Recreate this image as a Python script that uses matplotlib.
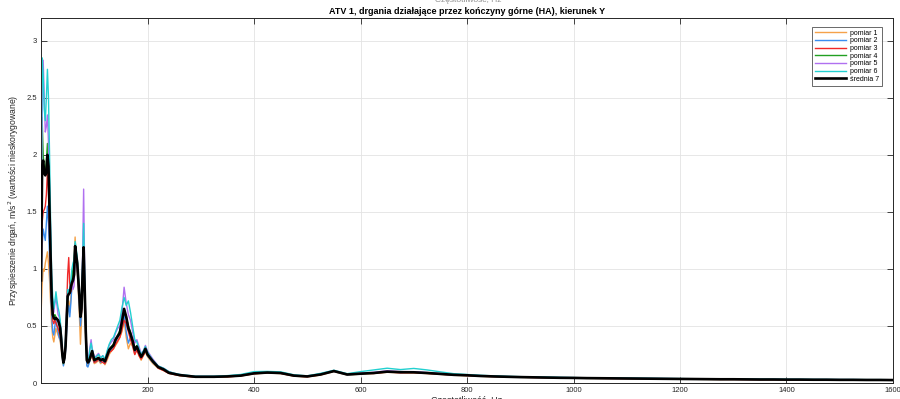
import numpy as np
import matplotlib
matplotlib.use("Agg")
import matplotlib.pyplot as plt

plt.rcParams['font.family'] = ['Liberation Sans', 'DejaVu Sans']

# frequency grid, Hz
freq = np.concatenate([np.arange(0, 101, 2), np.arange(104, 201, 4),
                       np.arange(210, 301, 10), np.arange(325, 1601, 25)])

# 0-300 Hz values (86 points), m/s^2
p1_low = [0.60, 0.85, 1.00, 0.98, 1.05, 1.10, 1.15, 1.05, 0.90, 0.70, 0.50, 0.40, 0.36, 0.42, 0.48, 0.45, 0.42, 0.40, 0.36, 0.30,
          0.22, 0.16, 0.20, 0.30, 0.50, 0.65, 0.72, 0.62, 0.75, 0.85, 0.90, 1.10, 1.28, 1.10, 1.00, 0.80, 0.60, 0.34, 0.55, 0.90,
          1.12, 0.70, 0.35, 0.16, 0.15, 0.18, 0.20, 0.22, 0.24, 0.20, 0.17,
          0.18, 0.20, 0.17, 0.19, 0.16, 0.20, 0.25, 0.28, 0.30, 0.33, 0.36, 0.40, 0.45, 0.55, 0.40, 0.30, 0.35, 0.32, 0.25, 0.30,
          0.24, 0.20, 0.24, 0.27, 0.23,
          0.17, 0.13, 0.11, 0.085, 0.075, 0.065, 0.06, 0.055, 0.05, 0.05]
p2_low = [0.72, 1.20, 1.35, 1.30, 1.25, 1.40, 1.55, 1.40, 1.10, 0.80, 0.60, 0.45, 0.42, 0.50, 0.55, 0.50, 0.45, 0.40, 0.38, 0.32,
          0.22, 0.15, 0.20, 0.28, 0.45, 0.62, 0.68, 0.58, 0.70, 0.85, 0.92, 1.05, 1.22, 1.10, 1.02, 0.85, 0.68, 0.50, 0.60, 0.92,
          1.15, 0.75, 0.40, 0.15, 0.14, 0.17, 0.20, 0.25, 0.26, 0.22, 0.18,
          0.19, 0.21, 0.18, 0.20, 0.17, 0.22, 0.27, 0.30, 0.32, 0.36, 0.40, 0.43, 0.50, 0.60, 0.45, 0.35, 0.40, 0.33, 0.27, 0.31,
          0.25, 0.22, 0.25, 0.29, 0.24,
          0.18, 0.135, 0.115, 0.09, 0.078, 0.068, 0.063, 0.058, 0.053, 0.053]
p3_low = [0.85, 1.40, 1.50, 1.52, 1.55, 1.65, 1.85, 1.70, 1.30, 0.95, 0.70, 0.55, 0.52, 0.55, 0.53, 0.50, 0.48, 0.45, 0.42, 0.35,
          0.25, 0.18, 0.22, 0.35, 0.65, 0.95, 1.10, 0.85, 0.80, 0.85, 0.88, 1.00, 1.22, 1.10, 1.02, 0.88, 0.75, 0.60, 0.62, 0.90,
          1.10, 0.85, 0.55, 0.22, 0.18, 0.19, 0.21, 0.23, 0.25, 0.21, 0.18,
          0.19, 0.21, 0.19, 0.18, 0.17, 0.22, 0.27, 0.28, 0.30, 0.34, 0.37, 0.40, 0.47, 0.55, 0.52, 0.45, 0.38, 0.33, 0.25, 0.29,
          0.24, 0.21, 0.24, 0.28, 0.26,
          0.20, 0.13, 0.11, 0.085, 0.075, 0.066, 0.06, 0.056, 0.052, 0.05]
p4_low = [1.00, 2.33, 2.00, 1.90, 1.85, 1.95, 2.10, 1.95, 1.55, 1.15, 0.78, 0.62, 0.58, 0.60, 0.58, 0.56, 0.55, 0.52, 0.48, 0.38,
          0.24, 0.17, 0.22, 0.33, 0.56, 0.76, 0.78, 0.80, 0.86, 0.92, 1.00, 1.05, 1.20, 1.15, 1.08, 0.92, 0.78, 0.60, 0.66, 0.96,
          1.20, 0.82, 0.46, 0.20, 0.18, 0.19, 0.22, 0.26, 0.28, 0.24, 0.20,
          0.21, 0.22, 0.20, 0.21, 0.19, 0.25, 0.30, 0.32, 0.34, 0.39, 0.42, 0.46, 0.55, 0.62, 0.58, 0.50, 0.45, 0.38, 0.30, 0.33,
          0.28, 0.24, 0.26, 0.30, 0.25,
          0.19, 0.14, 0.12, 0.092, 0.08, 0.07, 0.064, 0.06, 0.055, 0.055]
p5_low = [1.10, 2.30, 2.83, 2.50, 2.20, 2.25, 2.35, 2.10, 1.70, 1.30, 0.85, 0.70, 0.62, 0.70, 0.75, 0.68, 0.60, 0.58, 0.52, 0.42,
          0.27, 0.19, 0.24, 0.36, 0.60, 0.80, 0.82, 0.80, 0.88, 0.86, 0.82, 0.85, 1.10, 1.15, 1.05, 0.92, 0.80, 0.65, 0.72, 1.10,
          1.70, 0.95, 0.52, 0.24, 0.22, 0.25, 0.32, 0.38, 0.30, 0.27, 0.22,
          0.24, 0.26, 0.22, 0.24, 0.21, 0.27, 0.33, 0.36, 0.38, 0.44, 0.48, 0.50, 0.62, 0.84, 0.70, 0.60, 0.55, 0.45, 0.35, 0.38,
          0.32, 0.26, 0.28, 0.33, 0.28,
          0.21, 0.15, 0.13, 0.10, 0.085, 0.075, 0.068, 0.063, 0.058, 0.058]
p6_low = [1.20, 2.85, 2.70, 2.40, 2.30, 2.50, 2.75, 2.50, 2.00, 1.40, 0.95, 0.75, 0.65, 0.72, 0.80, 0.72, 0.66, 0.62, 0.55, 0.44,
          0.28, 0.20, 0.25, 0.38, 0.62, 0.82, 0.80, 0.82, 0.90, 1.00, 1.05, 1.08, 1.24, 1.18, 1.10, 0.95, 0.82, 0.62, 0.70, 1.05,
          1.40, 0.92, 0.50, 0.22, 0.20, 0.23, 0.30, 0.35, 0.30, 0.26, 0.22,
          0.23, 0.25, 0.22, 0.24, 0.21, 0.28, 0.34, 0.38, 0.40, 0.45, 0.50, 0.55, 0.66, 0.75, 0.68, 0.72, 0.62, 0.50, 0.38, 0.36,
          0.30, 0.25, 0.28, 0.32, 0.27,
          0.20, 0.15, 0.13, 0.10, 0.086, 0.076, 0.07, 0.065, 0.06, 0.06]
avg_low = [0.90, 1.90, 1.95, 1.84, 1.82, 1.85, 2.00, 1.90, 1.50, 1.10, 0.75, 0.60, 0.57, 0.56, 0.57, 0.56, 0.55, 0.52, 0.48, 0.38,
           0.25, 0.18, 0.22, 0.32, 0.55, 0.76, 0.78, 0.79, 0.84, 0.88, 0.90, 0.95, 1.20, 1.12, 1.05, 0.90, 0.76, 0.58, 0.65, 0.95,
           1.19, 0.80, 0.45, 0.20, 0.18, 0.19, 0.22, 0.25, 0.28, 0.24, 0.20,
           0.21, 0.22, 0.20, 0.21, 0.19, 0.24, 0.29, 0.31, 0.33, 0.38, 0.41, 0.44, 0.54, 0.65, 0.58, 0.48, 0.43, 0.37, 0.29, 0.32,
           0.27, 0.23, 0.26, 0.30, 0.25,
           0.19, 0.14, 0.12, 0.09, 0.08, 0.07, 0.065, 0.06, 0.055, 0.055]

# 325-1600 Hz values (52 points)
p1_tail = [0.050, 0.055, 0.062, 0.080, 0.088, 0.083, 0.060, 0.054, 0.070, 0.100, 0.070, 0.078, 0.084, 0.094, 0.090, 0.089, 0.083,
           0.076, 0.068, 0.064, 0.059, 0.055, 0.052, 0.050, 0.048, 0.046, 0.044, 0.043, 0.041, 0.040, 0.039, 0.038, 0.037, 0.036,
           0.035, 0.034, 0.033, 0.032, 0.031, 0.031, 0.030, 0.029, 0.029, 0.028, 0.028, 0.027, 0.027, 0.026, 0.026, 0.025, 0.025, 0.024]
p2_tail = [0.053, 0.060, 0.066, 0.084, 0.090, 0.086, 0.063, 0.057, 0.078, 0.102, 0.072, 0.080, 0.090, 0.098, 0.092, 0.096, 0.086,
           0.079, 0.070, 0.067, 0.061, 0.057, 0.054, 0.051, 0.049, 0.047, 0.045, 0.044, 0.042, 0.041, 0.040, 0.039, 0.038, 0.037,
           0.036, 0.035, 0.034, 0.033, 0.032, 0.032, 0.031, 0.030, 0.030, 0.029, 0.029, 0.028, 0.028, 0.027, 0.027, 0.026, 0.026, 0.025]
p3_tail = [0.052, 0.054, 0.063, 0.082, 0.090, 0.085, 0.062, 0.055, 0.073, 0.104, 0.076, 0.086, 0.084, 0.098, 0.090, 0.092, 0.085,
           0.078, 0.070, 0.066, 0.060, 0.057, 0.054, 0.051, 0.049, 0.047, 0.045, 0.044, 0.042, 0.041, 0.040, 0.039, 0.038, 0.037,
           0.036, 0.035, 0.034, 0.033, 0.032, 0.032, 0.031, 0.030, 0.030, 0.029, 0.029, 0.028, 0.028, 0.027, 0.027, 0.026, 0.026, 0.025]
p4_tail = [0.056, 0.058, 0.066, 0.086, 0.093, 0.089, 0.066, 0.059, 0.076, 0.106, 0.076, 0.083, 0.089, 0.101, 0.096, 0.095, 0.089,
           0.081, 0.073, 0.069, 0.063, 0.059, 0.056, 0.053, 0.051, 0.049, 0.047, 0.046, 0.044, 0.043, 0.042, 0.041, 0.040, 0.039,
           0.038, 0.037, 0.036, 0.035, 0.034, 0.034, 0.033, 0.032, 0.032, 0.031, 0.031, 0.030, 0.030, 0.029, 0.029, 0.028, 0.028, 0.027]
p5_tail = [0.058, 0.062, 0.070, 0.090, 0.095, 0.092, 0.068, 0.060, 0.080, 0.110, 0.078, 0.086, 0.094, 0.108, 0.100, 0.100, 0.092,
           0.084, 0.075, 0.071, 0.065, 0.060, 0.057, 0.054, 0.052, 0.050, 0.048, 0.047, 0.045, 0.044, 0.043, 0.042, 0.041, 0.040,
           0.039, 0.038, 0.037, 0.036, 0.035, 0.035, 0.034, 0.033, 0.033, 0.032, 0.032, 0.031, 0.031, 0.030, 0.030, 0.029, 0.029, 0.028]
p6_tail = [0.060, 0.065, 0.075, 0.100, 0.102, 0.098, 0.072, 0.063, 0.085, 0.112, 0.082, 0.100, 0.115, 0.130, 0.118, 0.128, 0.115,
           0.098, 0.082, 0.075, 0.068, 0.063, 0.059, 0.056, 0.054, 0.052, 0.050, 0.048, 0.046, 0.045, 0.044, 0.043, 0.042, 0.041,
           0.040, 0.039, 0.038, 0.037, 0.036, 0.036, 0.035, 0.034, 0.034, 0.033, 0.033, 0.032, 0.032, 0.031, 0.031, 0.030, 0.030, 0.029]
avg_tail = [0.055, 0.058, 0.065, 0.085, 0.092, 0.088, 0.065, 0.058, 0.075, 0.105, 0.075, 0.082, 0.088, 0.100, 0.095, 0.094, 0.088,
            0.080, 0.072, 0.068, 0.062, 0.058, 0.055, 0.052, 0.050, 0.048, 0.046, 0.045, 0.043, 0.042, 0.041, 0.040, 0.039, 0.038,
            0.037, 0.036, 0.035, 0.034, 0.033, 0.033, 0.032, 0.031, 0.031, 0.030, 0.030, 0.029, 0.029, 0.028, 0.028, 0.027, 0.027, 0.026]

labels = ['pomiar 1', 'pomiar 2', 'pomiar 3', 'pomiar 4', 'pomiar 5', 'pomiar 6', 'średnia 7']
colors = ['#f5a24a', '#3a8ef0', '#f02828', '#22a022', '#b070f0', '#22d0d0', '#000000']
series = [p1_low + p1_tail, p2_low + p2_tail, p3_low + p3_tail, p4_low + p4_tail,
          p5_low + p5_tail, p6_low + p6_tail, avg_low + avg_tail]

fig = plt.figure(figsize=(9, 3.99), dpi=100)
ax = fig.add_axes([0.0456, 0.040, 0.9466, 0.915])

for i in range(7):
    if i == 6:
        ax.plot(freq, series[i], color=colors[i], lw=1.9, label=labels[i], zorder=5)
    else:
        ax.plot(freq, series[i], color=colors[i], lw=1.0, label=labels[i])

ax.set_xlim(0, 1600)
ax.set_ylim(0, 3.2)
ax.set_xticks([200, 400, 600, 800, 1000, 1200, 1400, 1600])
ax.set_yticks([0, 0.5, 1, 1.5, 2, 2.5, 3])
ax.set_yticklabels(['0', '0.5', '1', '1.5', '2', '2.5', '3'])
ax.grid(True, color='#e3e3e3', lw=0.6)
ax.set_axisbelow(True)
ax.tick_params(direction='in', length=4, width=0.6, labelsize=5.5, colors='#262626',
               top=True, right=True, pad=3)
for s in ax.spines.values():
    s.set_color('#262626')
    s.set_linewidth(0.7)

ax.set_title('ATV 1, drgania działające przez kończyny górne (HA), kierunek Y',
             fontsize=6.5, fontweight='bold', pad=3)
ax.set_xlabel('Częstotliwość, Hz', fontsize=6.5, color='#262626', labelpad=1)
ax.set_ylabel('Przyspieszenie drgań, m/s$^2$ (wartości nieskorygowane)', fontsize=6.2,
              color='#262626', labelpad=4)
fig.text(0.52, 1.0, 'Częstotliwość, Hz', fontsize=6, color='#909090', ha='center', va='center')

leg = ax.legend(loc='upper right', fontsize=5, frameon=True, fancybox=False,
                borderpad=0.4, labelspacing=0.1, handlelength=4.5, handletextpad=0.6,
                bbox_to_anchor=(0.9915, 0.985))
leg.get_frame().set_edgecolor('#262626')
leg.get_frame().set_linewidth(0.6)

fig.savefig('out.png', dpi=100)
